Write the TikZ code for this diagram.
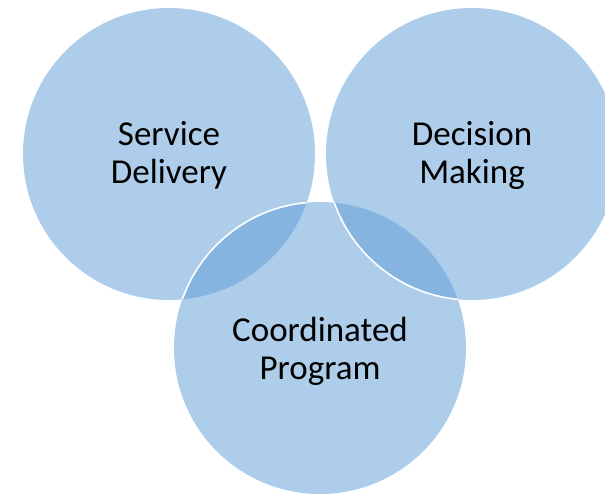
\documentclass[tikz,border=0pt]{standalone}
\usepackage{fontspec}
\setmainfont{Carlito}
\definecolor{vennblue}{HTML}{5B9BD5}
\tikzset{%
  venn/.style   = {shape=circle, minimum size=292pt, inner sep=0pt,%
                   fill=vennblue, fill opacity=0.5},%
  rim/.style    = {draw=white, line width=1.6pt},%
  vlabel/.style = {align=center, text=black, font=\fontsize{35}{38}\selectfont}%
}
\begin{document}
\begin{tikzpicture}[x=1pt,y=-1pt]
	\useasboundingbox (0,0) rectangle (605,497);
	\clip (0,0) rectangle (605,497);
	% the three circles
	\node [venn] (service)  at (169,154) {};
	\node [venn] (coord)    at (320,348) {};
	\node [venn] (decision) at (472,154) {};
	% white rims where they show
	\begin{scope}
		\clip (service.center) circle (146);
		\draw [rim] (coord.center) circle (146);
	\end{scope}
	\begin{scope}
		\clip (coord.center) circle (146);
		\draw [rim] (decision.center) circle (146);
	\end{scope}
	% labels
	\node [vlabel] (servicetext)  at ([yshift=-1pt]service.center)  {Service\\Delivery};
	\node [vlabel] (decisiontext) at ([yshift=-1pt]decision.center) {Decision\\Making};
	\node [vlabel] (coordtext)    at ([yshift=-3pt]coord.center)    {Coordinated\\Program};
\end{tikzpicture}
\end{document}
